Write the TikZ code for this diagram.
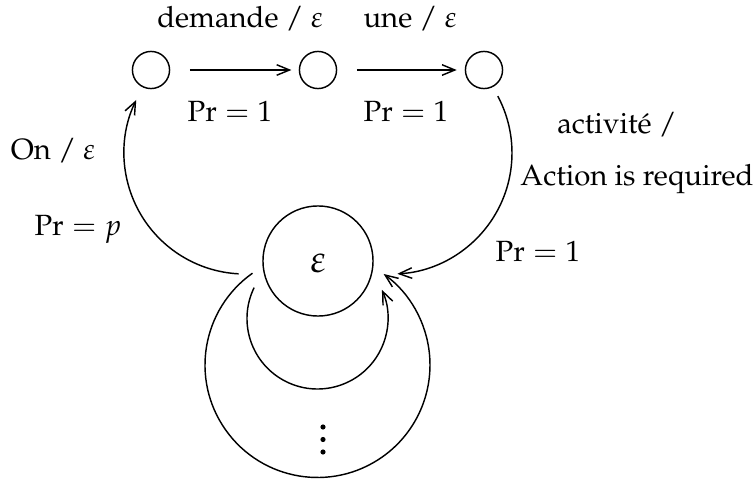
\documentclass[tikz,border=0pt]{standalone}
\usepackage[T1]{fontenc}
\usepackage{mathpazo}
\usetikzlibrary{arrows.meta}
\begin{document}
\begin{tikzpicture}[x=0.3125pt,y=0.3125pt,line width=0.45pt,
  every node/.style={font=\fontsize{9.15}{11}\selectfont},
  st/.style={circle,draw,minimum size=11.6pt,inner sep=0pt},
  big/.style={circle,draw,minimum size=34.4pt,inner sep=0pt},
  arr/.style={-{Straight Barb[length=4pt,width=3.3pt]}},
  lab/.style={anchor=base,inner sep=0pt},
  dot/.style={fill=black}]
\useasboundingbox (0,0) rectangle (755,479);
% states
\node[st] (s1) at (151,409) {};
\node[st] (s2) at (318,409) {};
\node[st] (s3) at (484,409) {};
\node[big] (e) at (318,218) {};
\node[lab,font=\fontsize{12}{14}\selectfont] (eps) at (318,206) {$\varepsilon$};
% top arrows
\draw[arr,shorten <=6.1pt,shorten >=2.3pt] (s1) -- (s2);
\draw[arr,shorten <=6.1pt,shorten >=2.5pt] (s2) -- (s3);
% arc centres
\coordinate (lc) at (245,326);
\coordinate (rc) at (391,326);
\coordinate (ic) at (317.5,160.5);
\coordinate (oc) at (317.5,114);
% arcs
\draw[arr] ([shift={(267:121)}]lc) arc[start angle=267,end angle=154,radius=121];
\draw[arr] ([shift={(28:121)}]rc) arc[start angle=28,end angle=-87,radius=121];
\draw[arr] ([shift={(154:70.5)}]ic) arc[start angle=154,end angle=384,radius=70.5];
\draw[arr] ([shift={(125.3:112.5)}]oc) arc[start angle=125.3,end angle=414,radius=112.5];
% labels
\node[lab] (l1) at (240,451) {demande / $\varepsilon$};
\node[lab] (l2) at (410,451) {une / $\varepsilon$};
\node[lab] (p1) at (230,357) {$\Pr = 1$};
\node[lab] (p2) at (406,357) {$\Pr = 1$};
\node[lab] (on) at (53,319) {On / $\varepsilon$};
\node[lab] (pp) at (78,243) {$\Pr = p$};
\node[lab] (act) at (617,346) {activit\'e /};
\node[lab] (air) at (637,293) {Action is required};
\node[lab] (p3) at (538,217) {$\Pr = 1$};
% vertical dots
\fill[dot] (323,52) circle[radius=2.6];
\fill[dot] (323,39.5) circle[radius=2.6];
\fill[dot] (323,27) circle[radius=2.6];
\end{tikzpicture}
\end{document}
